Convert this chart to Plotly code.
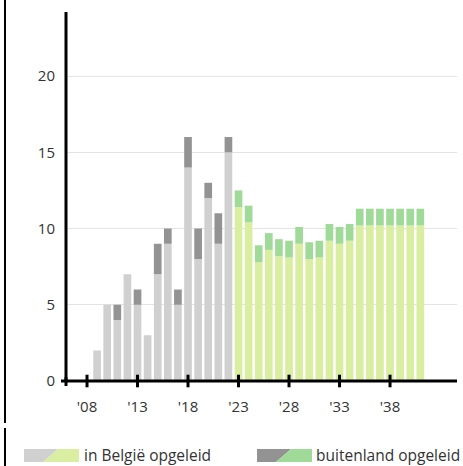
import plotly.graph_objects as go

years_hist = list(range(2009, 2023))
be_hist = [2, 5, 4, 7, 5, 3, 7, 9, 5, 14, 8, 12, 9, 15]
fo_hist = [0, 0, 1, 0, 1, 0, 2, 1, 1, 2, 2, 1, 2, 1]

years_proj = list(range(2023, 2042))
be_proj = [11.4, 10.4, 7.8, 8.6, 8.2, 8.1, 9.0, 8.0, 8.1, 9.2, 9.0, 9.2,
           10.2, 10.2, 10.2, 10.2, 10.2, 10.2, 10.2]
fo_proj = [1.1, 1.1, 1.1, 1.1, 1.1, 1.1, 1.1, 1.1, 1.1, 1.1, 1.1, 1.1,
           1.1, 1.1, 1.1, 1.1, 1.1, 1.1, 1.1]

tick_years = [2008, 2013, 2018, 2023, 2028, 2033, 2038]
tick_text = ["'08", "'13", "'18", "'23", "'28", "'33", "'38"]
y_ticks = [0, 5, 10, 15, 20]

legend_labels = ["in België opgeleid", "buitenland opgeleid"]

C_GREY_L = "#d0d0d0"
C_GREY_D = "#939393"
C_GREEN_L = "#d9eea0"
C_GREEN_D = "#a0da98"

W, H = 463, 466
L, R, T, B = 66, 6, 12, 85
PW, PH = W - L - R, H - T - B

def px(x):
    return (x - L) / PW

def py(y):
    return (H - B - y) / PH

fig = go.Figure()
bw = 0.76
fig.add_bar(x=years_hist, y=be_hist, marker_color=C_GREY_L, width=bw, marker_line_width=0)
fig.add_bar(x=years_hist, y=fo_hist, marker_color=C_GREY_D, width=bw, marker_line_width=0)
fig.add_bar(x=years_proj, y=be_proj, marker_color=C_GREEN_L, width=bw, marker_line_width=0)
fig.add_bar(x=years_proj, y=fo_proj, marker_color=C_GREEN_D, width=bw, marker_line_width=0)

# crossing tick marks on the x axis
fig.add_scatter(x=tick_years, y=[0] * len(tick_years), mode="markers",
                marker=dict(symbol="line-ns", size=9, line=dict(color="black", width=3)),
                cliponaxis=False, hoverinfo="skip")

font = "Open Sans, DejaVu Sans, sans-serif"
fig.update_layout(
    width=W, height=H, barmode="relative", showlegend=False,
    margin=dict(l=L, r=R, t=T, b=B, pad=0),
    plot_bgcolor="white", paper_bgcolor="white",
    font=dict(family=font, size=14, color="#333333"),
    xaxis=dict(range=[2005.92, 2044.63], tickvals=tick_years, ticktext=tick_text,
               showgrid=False, zeroline=False, showline=False, ticks="",
               tickfont=dict(size=15, color="#333333"), ticklabelstandoff=15),
    yaxis=dict(range=[0, 24.2], tickvals=y_ticks, showgrid=True, gridcolor="#e3e3e3",
               gridwidth=1, zeroline=False, showline=False, ticks="",
               tickfont=dict(size=15, color="#333333"), ticklabelstandoff=10),
)

shapes = []
# axes lines
shapes.append(dict(type="line", xref="paper", yref="paper", x0=px(66), x1=px(66),
                   y0=py(12), y1=py(382), line=dict(color="black", width=3)))
shapes.append(dict(type="line", xref="paper", yref="paper", x0=px(61), x1=px(457),
                   y0=py(381), y1=py(381), line=dict(color="black", width=3)))
shapes.append(dict(type="line", xref="paper", yref="paper", x0=px(66), x1=px(66),
                   y0=py(377), y1=py(386), line=dict(color="black", width=3)))
# left frame line
shapes.append(dict(type="line", xref="paper", yref="paper", x0=px(5), x1=px(5),
                   y0=py(0), y1=py(423), line=dict(color="black", width=2)))
shapes.append(dict(type="line", xref="paper", yref="paper", x0=px(5), x1=px(5),
                   y0=py(428), y1=py(466), line=dict(color="black", width=2)))

def poly(pts, color):
    d = "M " + " L ".join(f"{px(a)},{py(b)}" for a, b in pts) + " Z"
    return dict(type="path", xref="paper", yref="paper", path=d,
                fillcolor=color, line=dict(width=0))

y0, y1 = 449, 462
for x0, cl, cr in [(24, C_GREY_L, C_GREEN_L), (257, C_GREY_D, C_GREEN_D)]:
    x1 = x0 + 55
    shapes.append(poly([(x0, y0), (x0 + 34, y0), (x0 + 19, y1), (x0, y1)], cl))
    shapes.append(poly([(x0 + 34, y0), (x1, y0), (x1, y1), (x0 + 19, y1)], cr))

annotations = []
for xt, txt in [(82, legend_labels[0]), (314, legend_labels[1])]:
    annotations.append(dict(xref="paper", yref="paper", x=px(xt), y=py(455),
                            xanchor="left", yanchor="middle", text=txt, showarrow=False,
                            font=dict(size=15.5, color="#333333", family=font)))

fig.update_layout(shapes=shapes, annotations=annotations)
fig.write_html("out.html", config={"displayModeBar": False},
               post_script="document.body.style.margin='0';document.body.style.overflow='hidden';")
